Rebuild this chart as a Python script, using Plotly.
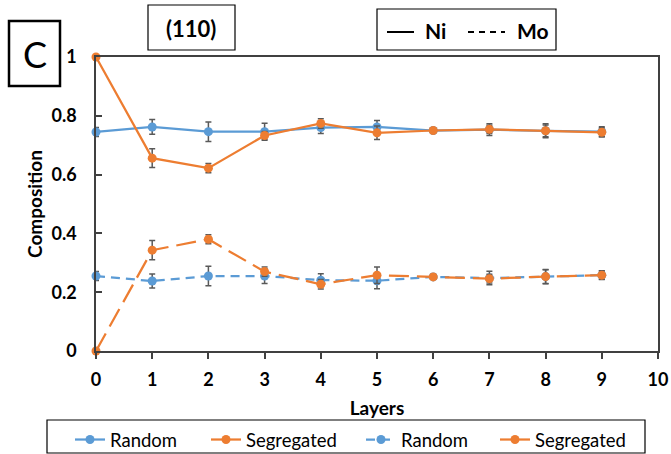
import plotly.graph_objects as go

layers = [0, 1, 2, 3, 4, 5, 6, 7, 8, 9]

ni_random = [0.745, 0.762, 0.746, 0.746, 0.760, 0.762, 0.750, 0.753, 0.749, 0.746]
ni_random_err = [0.015, 0.025, 0.033, 0.029, 0.020, 0.022, 0.008, 0.020, 0.024, 0.017]
ni_seg = [1.0, 0.656, 0.622, 0.733, 0.774, 0.742, 0.750, 0.754, 0.749, 0.744]
ni_seg_err = [0.0, 0.032, 0.016, 0.014, 0.016, 0.023, 0.008, 0.014, 0.020, 0.015]

mo_random = [0.255, 0.238, 0.255, 0.255, 0.241, 0.239, 0.252, 0.248, 0.253, 0.258]
mo_random_err = [0.015, 0.024, 0.033, 0.025, 0.022, 0.027, 0.008, 0.023, 0.024, 0.014]
mo_seg = [0.0, 0.343, 0.380, 0.270, 0.227, 0.258, 0.252, 0.246, 0.253, 0.258]
mo_seg_err = [0.0, 0.033, 0.015, 0.016, 0.016, 0.028, 0.008, 0.015, 0.023, 0.015]

BLUE = "#5B9BD5"
ORANGE = "#ED7D31"
ERRC = "#595959"
FONT = "Lato"


def err(vals):
    return dict(type="data", array=vals, visible=True, color=ERRC, thickness=1.5, width=3)


fig = go.Figure()
fig.add_trace(go.Scatter(x=layers, y=ni_random, error_y=err(ni_random_err), mode="lines+markers",
                         name="Random", legend="legend", cliponaxis=False,
                         line=dict(color=BLUE, width=2.25), marker=dict(color=BLUE, size=9)))
fig.add_trace(go.Scatter(x=layers, y=ni_seg, error_y=err(ni_seg_err), mode="lines+markers",
                         name="Segregated", legend="legend2", cliponaxis=False,
                         line=dict(color=ORANGE, width=2.25), marker=dict(color=ORANGE, size=9)))
fig.add_trace(go.Scatter(x=layers, y=mo_random, error_y=err(mo_random_err), mode="lines+markers",
                         name="Random", legend="legend3", cliponaxis=False,
                         line=dict(color=BLUE, width=2.25, dash="9px,6px"),
                         marker=dict(color=BLUE, size=9)))
fig.add_trace(go.Scatter(x=layers, y=mo_seg, error_y=err(mo_seg_err), mode="lines+markers",
                         name="Segregated", showlegend=False, cliponaxis=False,
                         line=dict(color=ORANGE, width=2.25, dash="20px,8px"),
                         marker=dict(color=ORANGE, size=9)))
# legend entry as in the original (solid sample)
fig.add_trace(go.Scatter(x=[None], y=[None], mode="lines+markers", name="Segregated", legend="legend4",
                         line=dict(color=ORANGE, width=2.25), marker=dict(color=ORANGE, size=9)))

W, H = 671, 454
L, R, T, B = 96, 13, 57, 103
pw, ph = W - L - R, H - T - B


def px(x):
    return (x - L) / pw


def py(y):
    return (H - B - y) / ph


shapes = [
    dict(type="rect", xref="paper", yref="paper", x0=px(9), x1=px(60), y0=py(86), y1=py(21),
         line=dict(color="black", width=2.5)),
    dict(type="rect", xref="paper", yref="paper", x0=px(148), x1=px(235), y0=py(50), y1=py(5),
         line=dict(color="black", width=1.2)),
    dict(type="rect", xref="paper", yref="paper", x0=px(377), x1=px(556), y0=py(50), y1=py(9),
         line=dict(color="black", width=1.2)),
    dict(type="line", xref="paper", yref="paper", x0=px(387), x1=px(414), y0=py(32), y1=py(32),
         line=dict(color="black", width=2)),
    dict(type="line", xref="paper", yref="paper", x0=px(468), x1=px(505), y0=py(32), y1=py(32),
         line=dict(color="black", width=2, dash="6px,5px")),
    # legend frame
    dict(type="rect", xref="paper", yref="paper", x0=px(47), x1=px(645), y0=py(453), y1=py(420),
         line=dict(color="black", width=1.2)),
]

annotations = [
    dict(text="C", xref="paper", yref="paper", x=px(35), y=py(54), showarrow=False,
         font=dict(family=FONT, size=36, color="black"), xanchor="center", yanchor="middle"),
    dict(text="<b>(110)</b>", xref="paper", yref="paper", x=px(191), y=py(28), showarrow=False,
         font=dict(family=FONT, size=22, color="black"), xanchor="center", yanchor="middle"),
    dict(text="<b>Ni</b>", xref="paper", yref="paper", x=px(423), y=py(31), showarrow=False,
         font=dict(family=FONT, size=21, color="black"), xanchor="left", yanchor="middle"),
    dict(text="<b>Mo</b>", xref="paper", yref="paper", x=px(515), y=py(31), showarrow=False,
         font=dict(family=FONT, size=21, color="black"), xanchor="left", yanchor="middle"),
]


def leg(xpix):
    return dict(orientation="h", x=px(xpix), xanchor="left", y=py(421), yanchor="top",
                borderwidth=0, bgcolor="rgba(0,0,0,0)",
                font=dict(family=FONT, size=18.5, color="black"), itemwidth=30)


fig.update_layout(
    width=W, height=H,
    margin=dict(l=L, r=R, t=T, b=B, autoexpand=False),
    paper_bgcolor="white", plot_bgcolor="white",
    font=dict(family=FONT, color="black"),
    shapes=shapes, annotations=annotations,
    showlegend=True,
    legend=leg(70), legend2=leg(206), legend3=leg(361), legend4=leg(495),
    xaxis=dict(range=[0, 10], dtick=1, tick0=0, showgrid=False, zeroline=False,
               showline=True, linecolor="#404040", linewidth=1.5, mirror=True,
               ticks="outside", ticklen=6, tickwidth=1.5, tickcolor="#404040",
               tickfont=dict(family=FONT, size=18, color="black", weight="bold"),
               ticklabelstandoff=6,
               title=dict(text="<b>Layers</b>", font=dict(family=FONT, size=19, color="black"), standoff=12)),
    xaxis2=dict(range=[0, 10], dtick=1, tick0=0, overlaying="x", anchor="y", side="bottom",
                showgrid=False, zeroline=False, showline=False, showticklabels=False,
                ticks="inside", ticklen=6, tickwidth=1.5, tickcolor="#404040"),
    yaxis=dict(range=[0, 1], dtick=0.2, tick0=0, showgrid=False, zeroline=False,
               showline=True, linecolor="#404040", linewidth=1.5, mirror=True,
               ticks="inside", ticklen=6, tickwidth=1.5, tickcolor="#404040",
               tickfont=dict(family=FONT, size=18, color="black", weight="bold"),
               ticklabelstandoff=14,
               title=dict(text="<b>Composition</b>", font=dict(family=FONT, size=19, color="black"), standoff=4)),
)

fig.write_html("out.html", config={"displayModeBar": False},
               post_script="document.body.style.margin='0';document.body.style.overflow='hidden';")
